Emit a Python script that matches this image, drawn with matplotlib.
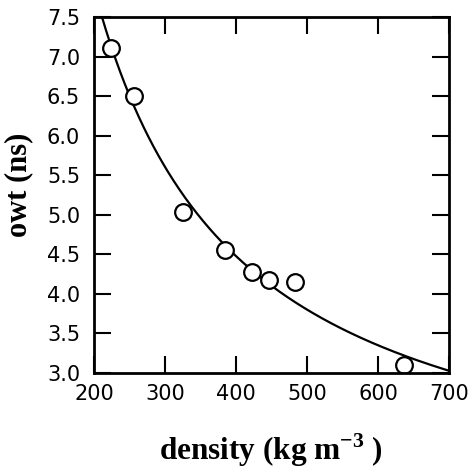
import numpy as np
import matplotlib
matplotlib.use("Agg")
import matplotlib.pyplot as plt

plt.rcParams["mathtext.fontset"] = "custom"
plt.rcParams["mathtext.rm"] = "Liberation Serif:bold"
plt.rcParams["mathtext.bf"] = "Liberation Serif:bold"

# values
density = [224, 257, 325, 384, 423, 446, 483, 637]
owt = [7.11, 6.50, 5.03, 4.56, 4.28, 4.18, 4.15, 3.10]
x_ticks = [200, 300, 400, 500, 600, 700]
y_ticks = [3.0, 3.5, 4.0, 4.5, 5.0, 5.5, 6.0, 6.5, 7.0, 7.5]

# hyperbolic fit owt = a + b / density
b, a = np.polyfit(1.0 / np.array(density), owt, 1)
xs = np.linspace(200, 700, 300)
ys = a + b / xs

fig = plt.figure(figsize=(4.69, 4.69), dpi=100)
ax = fig.add_axes([0.2004, 0.2047, 0.757, 0.7591])

ax.plot(xs, ys, color="black", lw=1.6)
ax.plot(density, owt, "o", ms=12, mfc="white", mec="black", mew=1.6)

ax.set_xlim(200, 700)
ax.set_ylim(3.0, 7.5)
ax.set_xticks(x_ticks)
ax.set_yticks(y_ticks)
ax.set_xticklabels([str(v) for v in x_ticks])
ax.set_yticklabels([f"{v:.1f}" for v in y_ticks])

for s in ax.spines.values():
    s.set_linewidth(2.0)
ax.tick_params(direction="in", length=12, width=1.5, top=True, right=True,
               labelsize=15)
ax.tick_params(axis="y", pad=10)
ax.tick_params(axis="x", pad=8)
for lab in ax.get_xticklabels() + ax.get_yticklabels():
    lab.set_fontfamily("DejaVu Sans")

fig.text(0.578, 0.04, "density (kg m$^{\\mathbf{-3}}$ )", ha="center", va="center",
         fontsize=22.5, fontweight="bold", family="Liberation Serif")
fig.text(0.04, 0.607, "owt (ns)", ha="center", va="center", rotation=90,
         fontsize=22, fontweight="bold", family="Liberation Serif")

fig.savefig("out.png", dpi=100)
